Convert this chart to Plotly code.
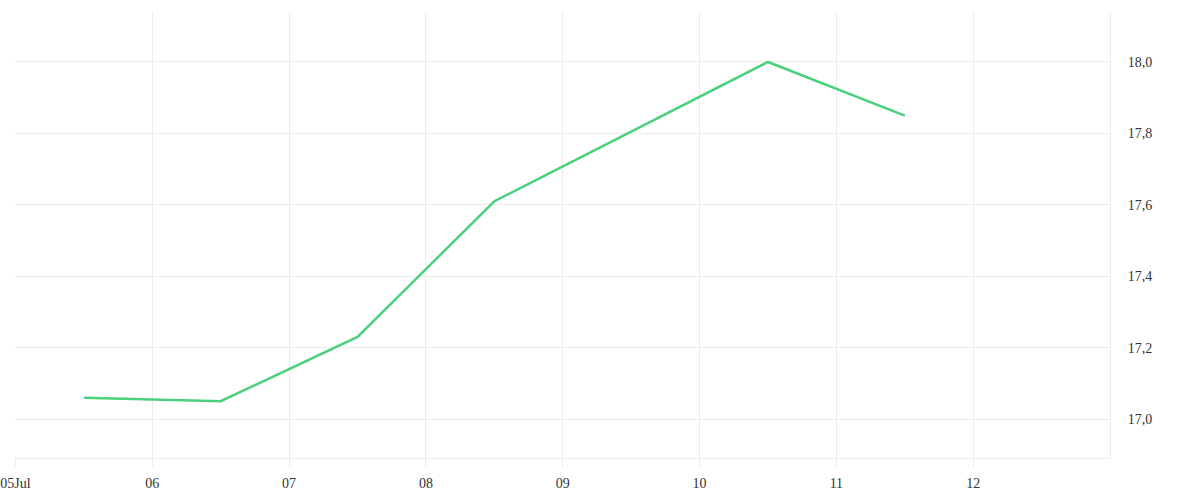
import plotly.graph_objects as go

# daily readings, plotted at midday
dates = ['2024-07-05 12:00', '2024-07-06 12:00', '2024-07-07 12:00', '2024-07-08 12:00',
         '2024-07-09 12:00', '2024-07-10 12:00', '2024-07-11 12:00']
values = [17.06, 17.05, 17.23, 17.61, 17.805, 18.0, 17.85]

tick_dates = ['2024-07-05', '2024-07-06', '2024-07-07', '2024-07-08',
              '2024-07-09', '2024-07-10', '2024-07-11', '2024-07-12']
tick_labels = ['05Jul', '06', '07', '08', '09', '10', '11', '12']

grid = '#ececec'
font = dict(family='Liberation Serif', size=14, color='#333333')

fig = go.Figure()
fig.add_trace(go.Scatter(x=dates, y=values, mode='lines',
                         line=dict(color='#4cd07d', width=2.5),
                         showlegend=False))

fig.update_layout(width=1200, height=500,
                  margin=dict(l=15, r=90, t=12, b=42),
                  plot_bgcolor='white', paper_bgcolor='white',
                  separators=',.',
                  font=font)

fig.update_xaxes(range=['2024-07-04 23:55', '2024-07-13'],
                 tickvals=tick_dates, ticktext=tick_labels,
                 showgrid=True, gridcolor=grid, gridwidth=1,
                 showline=True, linecolor=grid, linewidth=1,
                 ticks='outside', ticklen=8, tickcolor=grid,
                 ticklabelstandoff=4, ticklabeloverflow='allow',
                 automargin=False, zeroline=False)

fig.update_yaxes(side='right', range=[16.891, 18.14],
                 tickvals=[17.0, 17.2, 17.4, 17.6, 17.8, 18.0], tickformat='.1f',
                 showgrid=True, gridcolor=grid, gridwidth=1,
                 showline=True, linecolor=grid, linewidth=1,
                 ticks='', ticklabelstandoff=14,
                 automargin=False, zeroline=False)

# drop the default page margin so the figure sits at the window corner
fig.write_html('out.html', config={'displayModeBar': False},
               post_script="document.body.style.margin='0px';")
